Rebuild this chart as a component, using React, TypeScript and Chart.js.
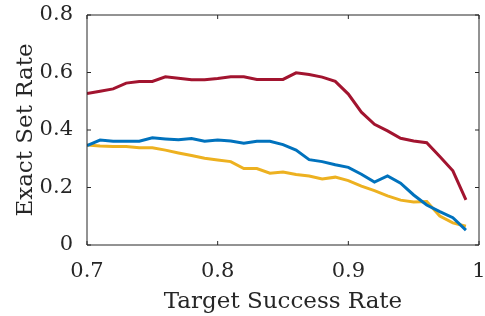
import React, { useEffect, useRef } from "react";
import { Chart, registerables } from "chart.js";

Chart.register(...registerables);

const xValues = [0.70, 0.71, 0.72, 0.73, 0.74, 0.75, 0.76, 0.77, 0.78, 0.79, 0.80, 0.81, 0.82, 0.83, 0.84, 0.85, 0.86, 0.87, 0.88, 0.89, 0.90, 0.91, 0.92, 0.93, 0.94, 0.95, 0.96, 0.97, 0.98, 0.99];
const redSeries = [0.527, 0.535, 0.543, 0.563, 0.569, 0.569, 0.585, 0.580, 0.575, 0.575, 0.579, 0.585, 0.585, 0.576, 0.576, 0.576, 0.599, 0.593, 0.584, 0.569, 0.525, 0.462, 0.420, 0.397, 0.371, 0.362, 0.356, 0.308, 0.258, 0.157];
const blueSeries = [0.346, 0.365, 0.361, 0.361, 0.361, 0.373, 0.369, 0.366, 0.370, 0.361, 0.365, 0.362, 0.354, 0.361, 0.361, 0.349, 0.330, 0.297, 0.290, 0.279, 0.270, 0.246, 0.219, 0.240, 0.215, 0.174, 0.139, 0.116, 0.095, 0.052];
const yellowSeries = [0.348, 0.344, 0.343, 0.343, 0.338, 0.338, 0.330, 0.320, 0.311, 0.302, 0.296, 0.290, 0.266, 0.266, 0.250, 0.254, 0.245, 0.240, 0.230, 0.236, 0.224, 0.205, 0.189, 0.171, 0.156, 0.150, 0.151, 0.101, 0.077, 0.065];
const xTicks = [0.7, 0.8, 0.9, 1];
const xTickLabels = ["0.7", "0.8", "0.9", "1"];
const yTicks = [0, 0.2, 0.4, 0.6, 0.8];
const yTickLabels = ["0", "0.2", "0.4", "0.6", "0.8"];
const xTitle = "Target Success Rate";
const yTitle = "Exact Set Rate";

const FONT = "'DejaVu Serif', 'Liberation Serif', serif";
const AXIS_COLOR = "#262626";

const boxPlugin = {
  id: "boxPlugin",
  afterDatasetsDraw(chart: any) {
    const { ctx, chartArea, scales } = chart;
    const { left, right, top, bottom } = chartArea;
    ctx.save();
    ctx.strokeStyle = AXIS_COLOR;
    ctx.lineWidth = 1;
    ctx.beginPath();
    ctx.rect(left, top, right - left, bottom - top);
    ctx.stroke();
    const tl = 4;
    ctx.beginPath();
    for (const v of xTicks) {
      const px = scales.x.getPixelForValue(v);
      ctx.moveTo(px, bottom);
      ctx.lineTo(px, bottom - tl);
      ctx.moveTo(px, top);
      ctx.lineTo(px, top + tl);
    }
    for (const v of yTicks) {
      const py = scales.y.getPixelForValue(v);
      ctx.moveTo(left, py);
      ctx.lineTo(left + tl, py);
      ctx.moveTo(right, py);
      ctx.lineTo(right - tl, py);
    }
    ctx.stroke();
    ctx.restore();
  },
};

export default function App() {
  const ref = useRef<HTMLCanvasElement | null>(null);
  useEffect(() => {
    if (!ref.current) return;
    const mk = (data: number[], color: string) => ({
      data: xValues.map((x, i) => ({ x, y: data[i] })),
      borderColor: color,
      backgroundColor: color,
      borderWidth: 3,
      pointRadius: 0,
      tension: 0,
      fill: false,
    });
    const chart = new Chart(ref.current, {
      type: "line",
      data: {
        datasets: [
          mk(blueSeries, "#0072BD"),
          mk(yellowSeries, "#EDB120"),
          mk(redSeries, "#A2142F"),
        ],
      },
      plugins: [boxPlugin],
      options: {
        animation: false,
        responsive: false,
        maintainAspectRatio: false,
        layout: { padding: { left: 0, right: 6, top: 15, bottom: 0 } },
        plugins: { legend: { display: false }, tooltip: { enabled: false } },
        scales: {
          x: {
            type: "linear",
            min: 0.7,
            max: 1,
            afterBuildTicks: (s: any) => {
              s.ticks = xTicks.map((v) => ({ value: v }));
            },
            afterFit: (s: any) => {
              s.height = 71;
              s.paddingLeft = 0;
              s.paddingRight = 0;
            },
            grid: { display: false },
            border: { display: false },
            ticks: {
              color: AXIS_COLOR,
              font: { family: FONT, size: 21 },
              padding: 6,
              maxRotation: 0,
              callback: (v: any) => {
                const i = xTicks.findIndex((t) => Math.abs(t - v) < 1e-9);
                return i >= 0 ? xTickLabels[i] : "";
              },
            },
            title: {
              display: true,
              text: xTitle,
              color: AXIS_COLOR,
              font: { family: FONT, size: 23 },
              padding: { top: 0, bottom: 0 },
            },
          },
          y: {
            type: "linear",
            min: 0,
            max: 0.8,
            afterBuildTicks: (s: any) => {
              s.ticks = yTicks.map((v) => ({ value: v }));
            },
            afterFit: (s: any) => {
              s.width = 87;
              s.paddingTop = 0;
              s.paddingBottom = 0;
            },
            grid: { display: false },
            border: { display: false },
            ticks: {
              color: AXIS_COLOR,
              font: { family: FONT, size: 21 },
              padding: 6,
              callback: (v: any) => {
                const i = yTicks.findIndex((t) => Math.abs(t - v) < 1e-9);
                return i >= 0 ? yTickLabels[i] : "";
              },
            },
            title: {
              display: true,
              text: yTitle,
              color: AXIS_COLOR,
              font: { family: FONT, size: 23 },
              padding: { top: 12, bottom: 4 },
            },
          },
        },
      },
    });
    return () => chart.destroy();
  }, []);
  return (
    <div style={{ position: "fixed", left: 0, top: 0, width: 485, height: 316, background: "#fff" }}>
      <canvas ref={ref} width={485} height={316} style={{ width: 485, height: 316 }} />
    </div>
  );
}
